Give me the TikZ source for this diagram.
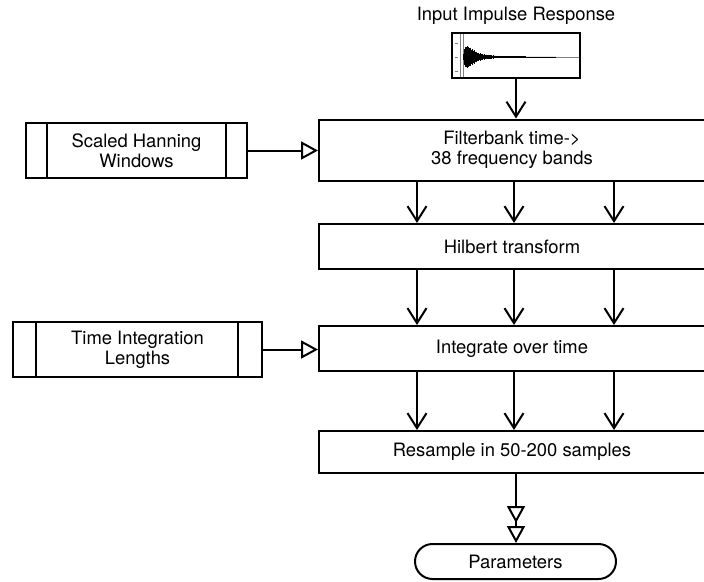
\documentclass[tikz,border=0pt]{standalone}
\usepackage{fontspec}
\setmainfont{TeX Gyre Heros}
\usetikzlibrary{arrows.meta,shapes.misc}

\tikzset{
  txt/.style={font=\fontsize{18.4}{20}\selectfont, align=center, inner sep=0pt},
  procbox/.style={txt, draw, line width=2pt, minimum height=#1},
  vee/.style={-{Straight Barb[length=15pt,width=19pt,line width=2pt]}},
  opentri/.style={-{Triangle[open,fill=white,length=17pt,width=18pt]}},
  doubletri/.style={-{Triangle[open,fill=white,length=17pt,width=18pt,sep=3pt]Triangle[open,fill=white,length=17pt,width=18pt]}},
}

\begin{document}
\begin{tikzpicture}[x=1pt, y=-1pt, line width=2pt]
\useasboundingbox (0,0) rectangle (704,581);
\clip (0,0) rectangle (704,581);

% input impulse response plot
\node[txt] (title) at (516,16) {Input Impulse Response};
\node[draw, line width=2pt, minimum width=128pt, minimum height=45pt, inner sep=0pt] (imp) at (516,55.5) {};
\draw[gray, line width=0.7pt] (460,34) -- (460,77) (463,34) -- (463,77);
\draw[gray, line width=0.6pt] (463,57) -- (579,57);
\foreach \ty in {43,57,71} \draw[gray, line width=0.6pt] (455,\ty) -- (458,\ty);
\pgfmathsetseed{11}
\foreach \i in {0,...,230}{
  \pgfmathsetmacro\xx{463.5+0.4*\i}
  \pgfmathsetmacro\aa{(\xx<466 ? 5*(\xx-463) : 14*exp(-(\xx-466)/11))*(0.5+0.5*rnd)+0.45}
  \draw[line width=0.6pt] (\xx,{57-\aa}) -- (\xx,{57+\aa});
}

% processing chain
\node[procbox=61pt, minimum width=386pt] (fb) at (512,150) {Filterbank time->\\38 frequency bands};
\node[procbox=45pt, minimum width=386pt] (hb) at (512,246.5) {Hilbert transform};
\node[procbox=45pt, minimum width=386pt] (it) at (512,348.5) {Integrate over time};
\node[procbox=42pt, minimum width=386pt] (rs) at (512,452) {Resample in 50-200 samples};
\node[txt, draw, line width=2pt, rounded rectangle, minimum width=201pt, minimum height=35pt] (par) at (515.5,561.5) {Parameters};

% predefined inputs
\node[procbox=55pt, minimum width=221pt] (hw) at (136.5,150.5) {Scaled Hanning\\Windows};
\draw ([xshift=22pt]hw.north west) -- ([xshift=22pt]hw.south west)
      ([xshift=-22pt]hw.north east) -- ([xshift=-22pt]hw.south east);
\node[procbox=55pt, minimum width=249pt] (tl) at (137.5,349.5) {Time Integration\\Lengths};
\draw ([xshift=24pt]tl.north west) -- ([xshift=24pt]tl.south west)
      ([xshift=-25pt]tl.north east) -- ([xshift=-25pt]tl.south east);

% band columns
\coordinate (c0) at (516,0);
\coordinate (c1) at (417,0);
\coordinate (c2) at (514,0);
\coordinate (c3) at (614,0);

% connectors
\draw[vee] (imp.south) -- (fb.north -| c0);
\foreach \c in {c1,c2,c3}{
  \draw[vee] (fb.south -| \c) -- (hb.north -| \c);
  \draw[vee] (hb.south -| \c) -- (it.north -| \c);
  \draw[vee] (it.south -| \c) -- (rs.north -| \c);
}
\draw[opentri] (hw.east) -- (hw.east -| fb.west);
\draw[opentri] (tl.east) -- (tl.east -| it.west);
\draw[doubletri] (rs.south -| c0) -- (par.north -| c0);
\end{tikzpicture}
\end{document}
